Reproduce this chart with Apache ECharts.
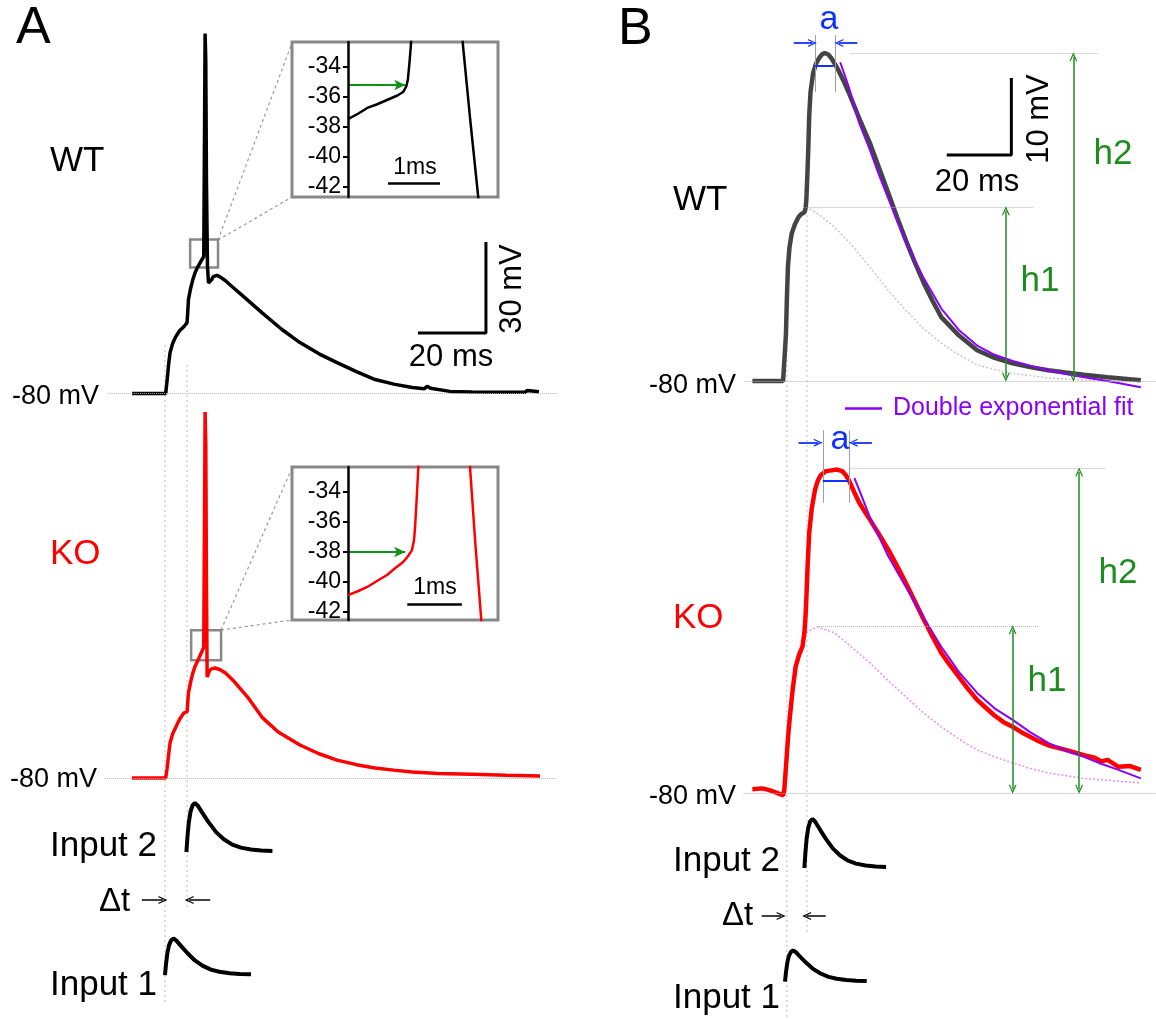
<!DOCTYPE html>
<html>
<head>
<meta charset="utf-8">
<title>WT / KO traces</title>
<script src="https://cdn.jsdelivr.net/npm/echarts@6/dist/echarts.min.js"></script>
<style>
html,body{margin:0;padding:0;background:#fff;}
#chart{width:1156px;height:1019px;}
</style>
</head>
<body>
<div id="chart"></div>
<script>
// ---------- data (time in ms, potential in mV) ----------
// panel A, full somatic traces
var aWtTrace = [[0,-80],[5,-80],[9.9,-80],[10.3,-76],[10.8,-70],[11.2,-66.5],[12,-63.3],[12.9,-61.2],[14,-59.3],[15.3,-57.9],[16.2,-56.6],[16.4,-53],[16.6,-49],[17.2,-45.5],[17.9,-42.4],[18.6,-40],[19.4,-38.1],[20.3,-36.3],[21.1,-34.8],[21.35,10],[21.5,38.8],[21.7,30],[21.9,-10],[22.2,-38],[22.5,-43.5],[22.9,-44],[23.4,-42.5],[23.9,-41.4],[25,-41],[25.8,-41.4],[27.5,-42.8],[29.4,-44.7],[33,-48.2],[38.2,-53.3],[44,-58.8],[49.4,-63.2],[55,-66.9],[60.3,-69.8],[66,-72.8],[71.5,-75.4],[77,-76.9],[82.4,-78],[86,-78.4],[86.8,-77.6],[87.8,-78.3],[93.5,-79.3],[100,-79.5],[110,-79.6],[115.5,-79.6],[116.3,-79],[119.7,-79.4]];
var aKoTrace = [[0,-80],[5,-80],[9.9,-80],[10.3,-77],[10.8,-72],[11.2,-68.4],[12,-65.3],[12.9,-63.2],[14,-60.6],[15.3,-58.5],[16.2,-58.2],[16.4,-55],[16.6,-52],[17.2,-48.5],[17.9,-45.3],[18.6,-43],[19.4,-41.1],[20.3,-38.9],[21.1,-36.8],[21.35,10],[21.5,40.8],[21.7,30],[21.9,-15],[22.1,-46.7],[22.5,-45.4],[22.9,-44.4],[23.6,-43.9],[24.4,-43.7],[25.8,-44.2],[27.4,-45.3],[30,-48.1],[34,-53.3],[38.2,-59.9],[43,-64.8],[49.4,-69.1],[55,-72],[60.3,-74.1],[66,-75.6],[71.5,-76.7],[77,-77.4],[82.4,-78],[90,-78.5],[100,-78.8],[110,-79.1],[120,-79.3]];

// panel A insets (ms from the inset axis, mV)
var wtInset = [[0,-37.47],[0.2,-37.1],[0.37,-36.73],[0.55,-36.5],[0.75,-36.2],[0.95,-35.9],[1.06,-35.67],[1.12,-35.3],[1.15,-34.87],[1.18,-33.8],[1.21,-32.53],[1.3,-25],[1.7,20],[2.1,-25],[2.21,-32.53],[2.35,-37.5],[2.5,-42.53],[2.55,-44]];
var koInset = [[0,-40.87],[0.2,-40.6],[0.37,-40.33],[0.55,-39.95],[0.75,-39.53],[0.9,-39.1],[1.06,-38.67],[1.15,-38.3],[1.23,-37.87],[1.27,-37.2],[1.29,-36.33],[1.32,-34.5],[1.35,-32.53],[1.5,-20],[1.8,20],[2.2,-20],[2.35,-32.53],[2.45,-37.5],[2.56,-42.4],[2.6,-44]];
var insetTicks = [-34, -36, -38, -40, -42];
var wtThreshold = -35.2;
var koThreshold = -38;

// panel B, dendritic plateau traces, fits and first component
var bWtTrace = [[0,-80],[5,-80],[9.5,-80],[9.8,-78],[10.1,-76],[10.4,-73.8],[10.7,-69],[11,-65.2],[11.5,-62.6],[12.2,-60.8],[13.2,-59.6],[14.3,-58.7],[15.2,-58.3],[16.1,-58.1],[16.5,-57.5],[16.7,-56.5],[17,-53.5],[17.3,-50],[17.6,-45.5],[18,-42.5],[18.8,-40],[19.7,-38.8],[20.6,-38.1],[21.5,-37.6],[22.4,-37.4],[23.5,-37.6],[24.5,-38.1],[25.5,-38.8],[26.6,-39.6],[28.2,-41],[29.9,-42.6],[33,-45.8],[36.4,-49.1],[39.3,-52.4],[42.1,-55.6],[44.8,-58.7],[47.5,-61.7],[50.3,-64.6],[53.1,-67.3],[55.8,-69.6],[58.5,-71.7],[64,-74.1],[69.6,-76],[75,-77],[80.6,-77.7],[86,-78.2],[91.6,-78.6],[97,-78.9],[102.7,-79.2],[110,-79.5],[120.3,-79.9]];
var bWtFit = [[27.2,-38.6],[30,-42],[33,-46.4],[36.4,-50],[39,-53],[42.1,-56.3],[44.8,-59.2],[47.5,-61.9],[53,-66.6],[58.5,-70.6],[64,-73.4],[69.6,-75.4],[75,-76.6],[80.6,-77.4],[86,-78],[91.6,-78.6],[97,-79.1],[102.7,-79.5],[110,-80],[120.3,-80.8]];
var bWtSlow = [[16.7,-57.4],[20,-58.2],[25.4,-60],[30,-62],[36.4,-65.2],[42,-68.2],[47.5,-70.8],[53,-73.2],[58.5,-75.1],[64,-76.6],[69.6,-77.9],[75,-78.5],[80.6,-79],[91.6,-79.6],[102.7,-79.9],[120,-80.1]];
var bKoTrace = [[0,-79.5],[3,-79.4],[5,-79.6],[7,-79.9],[9.55,-80.3],[9.9,-79.5],[10.4,-76.6],[11,-73],[11.6,-70.1],[12.5,-66.5],[13.4,-63.6],[14.5,-62],[15.5,-61],[16.1,-59.2],[16.4,-57.5],[16.7,-54.9],[17.1,-50.5],[17.6,-46.2],[18.4,-43],[19.4,-40.6],[20.3,-39.4],[21.2,-38.7],[22.8,-38.2],[24.5,-38.1],[26.2,-38],[27.8,-38.2],[28.9,-38.7],[29.9,-39.4],[31.5,-40.9],[33.1,-42.3],[34.7,-43.4],[36.4,-44.5],[39.2,-46.4],[42.1,-48.4],[44.8,-50.5],[47.5,-52.7],[50.3,-55.1],[53.1,-57.5],[55.8,-59.7],[58.5,-61.8],[61.2,-63.4],[63.9,-64.9],[66.8,-66.5],[69.6,-67.9],[72.2,-68.9],[74.9,-69.9],[77.8,-70.8],[80.6,-71.4],[83.3,-72.1],[86,-72.7],[88.8,-73.3],[91.6,-73.8],[97,-74.4],[102.7,-75.1],[106,-75.4],[108,-75.9],[110,-75.7],[113.4,-76.6],[117,-76.5],[120.3,-77]];
var bKoFit = [[31.6,-39.1],[34,-41.6],[36.4,-44.2],[42,-49.2],[47.5,-53.2],[53,-57.2],[58.5,-61],[64,-64.3],[69.6,-67],[75,-69],[80.6,-70.5],[86,-72.1],[91.6,-73.5],[97,-74.5],[102.7,-75.3],[108,-76.2],[113.4,-77],[120.3,-78.1]];
var bKoSlow = [[16.7,-59.2],[20,-58.4],[25.4,-59.2],[30,-60.8],[36.4,-63.1],[42,-65.4],[47.5,-67.5],[53,-69.6],[58.5,-71.4],[64,-73],[69.6,-74.4],[75,-75.3],[80.6,-76.1],[86,-76.8],[91.6,-77.4],[102.7,-78.1],[120.3,-78.7]];

// synaptic input waveform (ms after onset, normalised amplitude) and onsets
var inputShape = [[0,0],[0.3,0.3],[0.7,0.6],[1.2,0.82],[1.8,0.95],[2.5,1],[3.3,0.95],[4.5,0.82],[6.5,0.61],[8.8,0.4],[11,0.26],[13.5,0.15],[16,0.09],[19,0.05],[22,0.03],[25.3,0.02]];
var aOnsets = [9.7, 16.0];   // input 1, input 2
var bOnsets = [10.1, 16.1];

// ---------- layout ----------
var FONT = '"Liberation Sans", Arial, sans-serif';
var RED = '#ff0000', GREEN = '#1e8c1e', BLUE = '#1030ff', PURPLE = '#8a00ff', GUIDE = '#b4b4b4';
var CHEV = 'path://M0,10L5,0L10,10L8.4,10L5,3.2L1.6,10Z';

// pixel mapping of panel A and B time axes
var A = {t0: 132, ms: 3.4, tmin: -10, tmax: 125};
var B = {t0: 753, ms: 3.35, tmin: -5, tmax: 125};
function xA(t){ return A.t0 + A.ms * t; }
function xB(t){ return B.t0 + B.ms * t; }

var grids = [], xAxes = [], yAxes = [];
function addGrid(left, top, width, height, xmin, xmax, ymin, ymax, extra){
  var i = grids.length;
  grids.push(Object.assign({left: left, top: top, width: width, height: height}, extra || {}));
  xAxes.push({type: 'value', gridIndex: i, min: xmin, max: xmax, show: false});
  yAxes.push({type: 'value', gridIndex: i, min: ymin, max: ymax, show: false});
  return i;
}
// a trace grid: base = pixel row of -80 mV, pxmv = pixels per mV
function traceGrid(P, base, pxmv, vmin, vmax){
  return addGrid(P.t0 + P.ms * P.tmin, base - pxmv * (vmax + 80),
    P.ms * (P.tmax - P.tmin), pxmv * (vmax - vmin), P.tmin, P.tmax, vmin, vmax);
}
function inputGrid(P, base){
  return addGrid(P.t0 + P.ms * P.tmin, base - 49 * 1.2, P.ms * (P.tmax - P.tmin), 49 * 2.4, P.tmin, P.tmax, -1.2, 1.2);
}

var gAwt = traceGrid(A, 393.5, 3.03, -92, 45);
var gAko = traceGrid(A, 778, 3.03, -92, 45);
var gAin2 = inputGrid(A, 852);
var gAin1 = inputGrid(A, 990);
var gBwt = traceGrid(B, 381, 7.7, -85, -32);
var gBko = traceGrid(B, 793, 7.7, -85, -32);
var gBin2 = inputGrid(B, 868);
var gBin1 = inputGrid(B, 1003);

// insets: 52 px per ms, 15 px per mV, voltage axis 56 px right of the box edge
var insetStyle = {show: true, backgroundColor: '#fff', borderColor: '#888', borderWidth: 3, z: 5};
var gWtIn = addGrid(292, 42, 206, 155, -56 / 52, 150 / 52, -42.667, -32.333, insetStyle);
var gKoIn = addGrid(292, 467, 206, 153, -56 / 52, 150 / 52, -42.533, -32.333, insetStyle);
[gWtIn, gKoIn].forEach(function(i){
  yAxes[i] = {
    type: 'value', gridIndex: i, min: yAxes[i].min, max: yAxes[i].max, z: 6,
    position: 'left', offset: -56,
    axisLine: {show: true, onZero: false, lineStyle: {color: '#000', width: 2.5}},
    axisTick: {show: true, length: 5, customValues: insetTicks, lineStyle: {color: '#000', width: 2}},
    axisLabel: {show: true, customValues: insetTicks, color: '#000', fontSize: 23, fontFamily: FONT, margin: 7},
    splitLine: {show: false}
  };
});

// ---------- series helpers ----------
function line(gi, data, color, width, extra){
  return Object.assign({
    type: 'line', xAxisIndex: gi, yAxisIndex: gi, data: data, symbol: 'none',
    silent: true, itemStyle: {color: color}, lineStyle: {color: color, width: width}, z: 3
  }, extra || {});
}
function seg(a, b, s0, s1, size){
  return [{coord: a, symbol: s0 || 'none', symbolSize: size || [8, 9]}, {coord: b, symbol: s1 || 'none', symbolSize: size || [8, 9]}];
}
function marks(gi, segs, color, width, type, z){
  return {
    type: 'line', xAxisIndex: gi, yAxisIndex: gi, data: [], silent: true, z: z || 2,
    markLine: {silent: true, animation: false, symbol: 'none', label: {show: false},
      lineStyle: {color: color, width: width, type: type || 'solid'}, emphasis: {disabled: true}, data: segs}
  };
}
function shifted(shape, onset){
  return shape.map(function(p){ return [p[0] + onset, p[1]]; });
}

var series = [
  // panel A guides
  marks(gAwt, [seg([-7, -80], [125, -80])], GUIDE, 1, 'dotted', 1),
  marks(gAko, [seg([-8, -80], [125, -80])], GUIDE, 1, 'dotted', 1),
  // panel A traces
  line(gAwt, aWtTrace, '#000', 3.5, {
    markArea: {silent: true, itemStyle: {color: 'rgba(0,0,0,0)', borderColor: '#888', borderWidth: 2.5},
      label: {show: false}, data: [[{coord: [17.1, -29.2]}, {coord: [25.3, -38.4]}]]}
  }),
  line(gAko, aKoTrace, RED, 3.5, {
    markArea: {silent: true, itemStyle: {color: 'rgba(0,0,0,0)', borderColor: '#888', borderWidth: 2.5},
      label: {show: false}, data: [[{coord: [17.4, -31.2]}, {coord: [26.2, -41.1]}]]}
  }),
  // scale bar A: 20 ms x 30 mV
  line(gAwt, [[84.1, -60], [104.1, -60], [104.1, -30]], '#000', 3),
  // insets
  line(gWtIn, wtInset, '#000', 2.5, {z: 7}),
  line(gKoIn, koInset, RED, 2.5, {z: 7}),
  marks(gWtIn, [seg([0, wtThreshold], [1.1, wtThreshold], 'none', 'arrow', [8, 11])], '#139113', 2, 'solid', 7),
  marks(gKoIn, [seg([0, koThreshold], [1.1, koThreshold], 'none', 'arrow', [8, 11])], '#139113', 2, 'solid', 7),
  marks(gWtIn, [seg([0.77, -41.73], [1.77, -41.73])], '#000', 2.5, 'solid', 7),
  marks(gKoIn, [seg([1.14, -41.47], [2.19, -41.47])], '#000', 2.5, 'solid', 7),
  // inputs A
  line(gAin1, shifted(inputShape, aOnsets[0]), '#000', 4),
  line(gAin2, shifted(inputShape, aOnsets[1]), '#000', 4),
  marks(gAin2, [seg([2.9, -0.98], [9.1, -0.98], 'none', CHEV), seg([23, -0.98], [16.8, -0.98], 'none', CHEV)], '#000', 1.5, 'solid', 4),

  // panel B guides
  marks(gBwt, [seg([30.4, -37.4], [107.2, -37.4]), seg([16.7, -57.4], [86.9, -57.4]), seg([-2.4, -80], [125, -80])], GUIDE, 1, 'dotted', 1),
  marks(gBko, [seg([30.4, -37.8], [109.3, -37.8]), seg([20, -58.3], [88.7, -58.3]), seg([-2.7, -80], [125, -80])], GUIDE, 1, 'dotted', 1),
  // first (single input) component
  line(gBwt, bWtSlow, '#c8c8c8', 1.5, {lineStyle: {color: '#c8c8c8', width: 1.5, type: [2, 2]}}),
  line(gBko, bKoSlow, '#f08cf0', 1.5, {lineStyle: {color: '#f08cf0', width: 1.5, type: [2, 2]}}),
  // traces
  line(gBwt, bWtTrace, '#444', 4.5),
  line(gBko, bKoTrace, RED, 4.5),
  // fits
  line(gBwt, bWtFit, PURPLE, 2, {name: 'Double exponential fit', z: 4}),
  line(gBko, bKoFit, PURPLE, 2, {name: 'Double exponential fit', z: 4}),
  // scale bar B: 20 ms x 10 mV
  line(gBwt, [[60.2, -50.65], [80.2, -50.65], [80.2, -40.65]], '#000', 3),
  // h1 / h2
  marks(gBwt, [seg([78.5, -57.9], [78.5, -79.5], CHEV, CHEV), seg([99.4, -37.9], [99.4, -79.5], CHEV, CHEV)], GREEN, 1.5, 'solid', 5),
  marks(gBko, [seg([80.6, -58.8], [80.6, -79.5], CHEV, CHEV), seg([101.2, -38.3], [101.2, -79.5], CHEV, CHEV)], GREEN, 1.5, 'solid', 5),
  // half-width "a"
  marks(gBwt, [seg([19.4, -35.06], [19.4, -42.47]), seg([25.7, -35.06], [25.7, -42.47])], '#a0a0a0', 1, 'solid', 5),
  marks(gBko, [seg([21.8, -32.9], [21.8, -42.3]), seg([29.9, -32.9], [29.9, -42.3])], '#a0a0a0', 1, 'solid', 5),
  marks(gBwt, [seg([19.4, -39.1], [25.1, -39.1])], BLUE, 2, 'solid', 6),
  marks(gBko, [seg([21.8, -39.5], [29.6, -39.5])], BLUE, 2, 'solid', 6),
  marks(gBwt, [seg([12.8, -36.1], [18.6, -36.1], 'none', CHEV), seg([32.5, -36.1], [26.8, -36.1], 'none', CHEV)], BLUE, 1.8, 'solid', 6),
  marks(gBko, [seg([14.3, -34.5], [20.4, -34.5], 'none', CHEV), seg([37, -34.5], [31.2, -34.5], 'none', CHEV)], BLUE, 1.8, 'solid', 6),
  // inputs B
  line(gBin1, shifted(inputShape, bOnsets[0]), '#000', 4),
  line(gBin2, shifted(inputShape, bOnsets[1]), '#000', 4),
  marks(gBin2, [seg([2.9, -0.98], [8.9, -0.98], 'none', CHEV), seg([22.7, -0.98], [16.8, -0.98], 'none', CHEV)], '#000', 1.5, 'solid', 4)
];

// ---------- text and guide graphics ----------
function txt(s, x, y, size, color, align, rot){
  return {type: 'text', x: x, y: y, rotation: rot || 0, z: 20, silent: true,
    style: {text: s, fill: color || '#000', font: size + 'px ' + FONT, align: align || 'left', verticalAlign: 'middle'}};
}
function gl(x1, y1, x2, y2, color, width, dash){
  return {type: 'line', z: 0, silent: true, shape: {x1: x1, y1: y1, x2: x2, y2: y2},
    style: {stroke: color, lineWidth: width, lineDash: dash || null}};
}
var graphics = [
  // onset guides
  gl(xA(aOnsets[0]), 345, xA(aOnsets[0]), 1004, '#bbb', 1, [2, 3]),
  gl(xA(aOnsets[1]) + 0.6, 365, xA(aOnsets[1]) + 0.6, 908, '#bbb', 1, [2, 3]),
  gl(xB(bOnsets[0]), 330, xB(bOnsets[0]), 1019, '#bbb', 1, [2, 3]),
  gl(xB(bOnsets[1]), 210, xB(bOnsets[1]), 933, '#bbb', 1, [2, 3]),
  // zoom connectors
  gl(218, 240, 292, 43, '#999', 1.2, [3, 3]),
  gl(218, 240, 292, 197, '#999', 1.2, [3, 3]),
  gl(221, 630, 292, 468, '#999', 1.2, [3, 3]),
  gl(221, 630, 292, 620, '#999', 1.2, [3, 3]),

  txt('A', 16, 29, 52), txt('B', 618, 30, 52),
  txt('WT', 50, 161, 35), txt('KO', 50, 554, 35, RED),
  txt('-80 mV', 12, 397, 27), txt('-80 mV', 10, 780, 27),
  txt('20 ms', 451, 357, 31, '#000', 'center'),
  txt('30 mV', 512, 289, 31, '#000', 'center', Math.PI / 2),
  txt('1ms', 415, 168, 23, '#000', 'center'),
  txt('1ms', 435, 588, 23, '#000', 'center'),
  txt('Input 2', 50, 846, 35), txt('\u0394t', 99, 902, 33), txt('Input 1', 50, 985, 35),

  txt('WT', 673, 200, 35), txt('KO', 673, 618, 35, RED),
  txt('-80 mV', 649, 386, 27), txt('-80 mV', 649, 797, 27),
  txt('20 ms', 977, 182, 31, '#000', 'center'),
  txt('10 mV', 1039, 119, 31, '#000', 'center', Math.PI / 2),
  txt('a', 829, 20, 34, BLUE, 'center'), txt('a', 840, 440, 34, BLUE, 'center'),
  txt('h2', 1113, 154, 35, GREEN, 'center'), txt('h1', 1040, 281, 35, GREEN, 'center'),
  txt('h2', 1118, 573, 35, GREEN, 'center'), txt('h1', 1047, 681, 35, GREEN, 'center'),
  txt('Input 2', 673, 861, 35), txt('\u0394t', 722, 916, 33), txt('Input 1', 673, 998, 35)
];

var chart = echarts.init(document.getElementById('chart'), null, {renderer: 'canvas'});
chart.setOption({
  animation: false,
  backgroundColor: '#fff',
  legend: {
    data: [{name: 'Double exponential fit', icon: 'rect'}],
    left: 845, top: 396, padding: 0, itemWidth: 37, itemHeight: 2.5,
    selectedMode: false,
    textStyle: {fontSize: 25, color: PURPLE, fontFamily: FONT, padding: [0, 0, 0, 6]}
  },
  grid: grids,
  xAxis: xAxes,
  yAxis: yAxes,
  series: series,
  graphic: graphics
});
</script>
</body>
</html>
